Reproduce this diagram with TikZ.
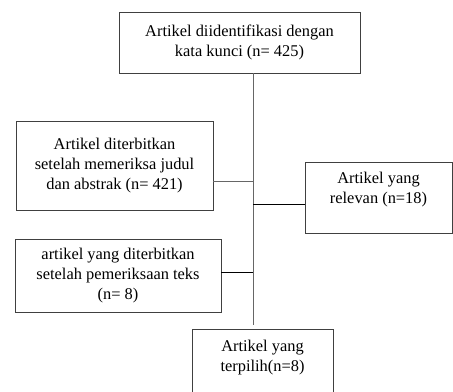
\documentclass[tikz,border=0pt]{standalone}
\usepackage{fontspec}
\setmainfont{Liberation Serif}
\begin{document}
\begin{tikzpicture}[x=0.75pt, y=-0.75pt, line width=0.6pt,
    kotak/.style={draw=black!75, align=center, inner sep=2pt, font=\fontsize{12.3}{15}\selectfont},
    garis/.style={draw=black!60}]
    \useasboundingbox (0,0) rectangle (453,392);

    % Kotak-kotak tahap
    \node[kotak, minimum width=180.75pt, minimum height=45.75pt] (cari) at (239.5,42.5) {Artikel diidentifikasi dengan\\kata kunci (n= 425)};
    \node[kotak, minimum width=147.75pt, minimum height=66.75pt] (judul) at (114.5,165.5) {Artikel diterbitkan\\setelah memeriksa judul\\dan abstrak (n= 421)};
    \node[kotak, minimum width=110.25pt, minimum height=53.25pt, text depth=14.5pt] (relevan) at (378.5,197.5) {Artikel yang\\relevan (n=18)};
    \node[kotak, minimum width=154.5pt, minimum height=54.75pt] (teks) at (118,275.5) {artikel yang diterbitkan\\setelah pemeriksaan teks\\(n= 8)};
    \node[kotak, minimum width=105.75pt, minimum height=67.5pt, text depth=28pt, anchor=north] (pilih) at (262.5,329) {Artikel yang\\terpilih(n=8)};

    % Garis utama
    \coordinate (trk) at (253,0);
    \draw[garis] (cari.south -| trk) -- ([yshift=3pt]pilih.north -| trk);

    % Cabang
    \draw[garis] (judul.east |- 0,181) -- (trk |- 0,181);
    \draw (trk |- 0,204) -- (relevan.west |- 0,204);
    \draw (teks.east |- 0,272) -- (trk |- 0,272);
\end{tikzpicture}
\end{document}
